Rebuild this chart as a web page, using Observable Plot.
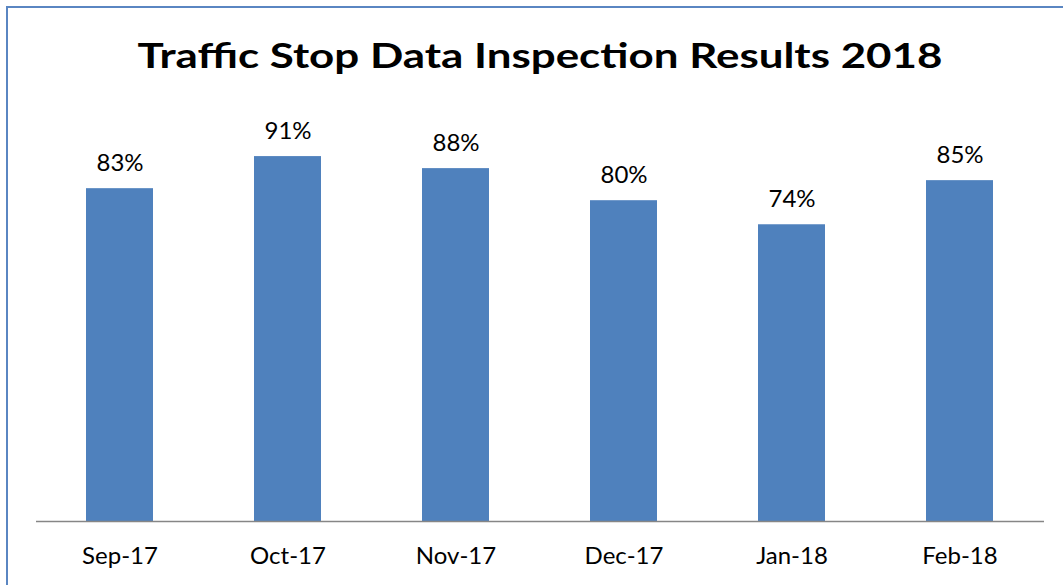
<!DOCTYPE html>
<html>
<head>
<meta charset="utf-8">
<script src="https://cdn.jsdelivr.net/npm/d3@7"></script>
<script src="https://cdn.jsdelivr.net/npm/@observablehq/plot@0.6"></script>
<style>
  html, body { margin: 0; padding: 0; background: #fff; overflow: hidden; }
  #wrap { position: relative; width: 1063px; height: 585px; overflow: hidden; background: #fff; }
  #border { position: absolute; left: 6px; top: 6px; width: 1200px; height: 800px; border: 2px solid #5A86C2; box-sizing: border-box; pointer-events: none; }
  #title { position: relative; height: 110px; width: 1063px; font-family: Lato, "Open Sans", sans-serif; font-weight: bold; color: #000; }
  #title span { position: absolute; left: 539.5px; white-space: nowrap; line-height: 1; transform-origin: 0 0; }
  #chart svg { display: block; }
</style>
</head>
<body>
<div id="wrap">
  <div id="title"><span>Traffic Stop Data Inspection Results 2018</span></div>
  <div id="chart"></div>
  <div id="border"></div>
</div>
<script>
const months = ["Sep-17", "Oct-17", "Nov-17", "Dec-17", "Jan-18", "Feb-18"];
const values = [83, 91, 88, 80, 74, 85];
const titleText = "Traffic Stop Data Inspection Results 2018";

const data = months.map((m, i) => ({month: m, value: values[i]}));

// title: match cap height (~25px) and stretch to the reference width (~805px)
const span = document.querySelector("#title span");
const fs = 35;
span.style.fontSize = fs + "px";
const ctx = document.createElement("canvas").getContext("2d");
ctx.font = `bold ${fs}px Lato`;
const w = ctx.measureText(titleText).width;
const sx = 805 / w;
span.style.top = (68.3 - 0.887 * fs) + "px";
span.style.transform = `translateX(${-402.5}px) scaleX(${sx})`;

const chart = Plot.plot({
  width: 1063,
  height: 475,
  marginTop: 10,
  marginBottom: 64,
  marginLeft: 36,
  marginRight: 19,
  x: {domain: months, paddingInner: 0.6, paddingOuter: 0.3, label: null},
  y: {domain: [0, 100], axis: null},
  style: {fontFamily: "Lato, 'Open Sans', sans-serif", fontSize: "24px", color: "#000", background: "transparent", overflow: "visible"},
  marks: [
    Plot.barY(data, {x: "month", y: "value", fill: "#4F81BD"}),
    Plot.ruleY([0], {stroke: "#868686", strokeWidth: 1.5}),
    Plot.text(data, {x: "month", y: "value", text: d => d.value + "%", dy: -18, lineAnchor: "bottom", fontSize: 24, fill: "#000"}),
    Plot.axisX({tickSize: 0, tickPadding: 25, fontSize: 24, label: null, fill: "#000"})
  ]
});
document.getElementById("chart").appendChild(chart);
</script>
</body>
</html>
